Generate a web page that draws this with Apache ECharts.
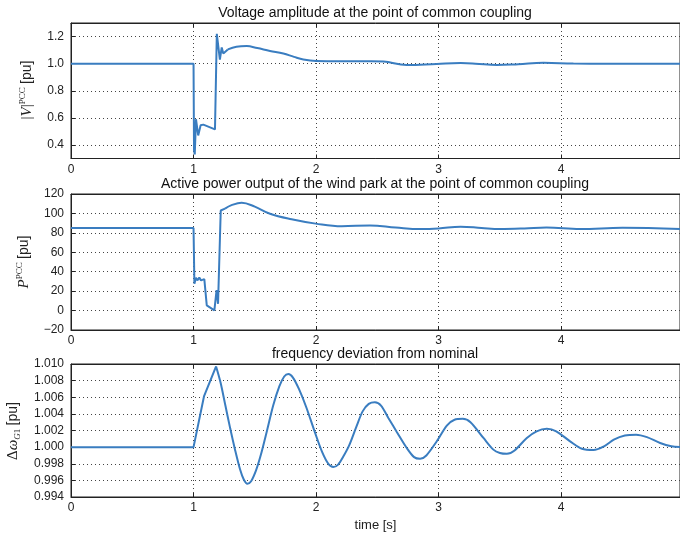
<!DOCTYPE html>
<html>
<head>
<meta charset="utf-8">
<script src="https://cdn.jsdelivr.net/npm/echarts@6/dist/echarts.min.js"></script>
<style>
  html, body { margin: 0; padding: 0; background: #fff; }
  #chart { width: 680px; height: 533px; }
</style>
</head>
<body>
<div id="chart"></div>
<script>
// time axis ticks
const timeTicks = [0, 1, 2, 3, 4];

// voltage amplitude at PCC [pu]: fault part (straight) and recovery (smooth)
const voltFaultT = [0, 1.0, 1.004, 1.010, 1.020, 1.038, 1.058, 1.080, 1.175, 1.190, 1.215, 1.230, 1.243, 1.280];
const voltFault = [1.0, 1.0, 0.36, 0.33, 0.59, 0.47, 0.545, 0.55, 0.515, 1.22, 1.03, 1.12, 1.075, 1.105];
const voltRecT = [1.280, 1.35, 1.434, 1.52, 1.624, 1.733, 1.82, 1.896, 2.0, 2.2, 2.45, 2.55, 2.74, 2.985, 3.18, 3.30, 3.475, 3.65, 3.856, 4.1, 4.37, 4.6, 4.97];
const voltRec = [1.105, 1.125, 1.13, 1.115, 1.094, 1.075, 1.05, 1.031, 1.02, 1.018, 1.018, 1.015, 0.99, 0.998, 1.004, 1.0, 0.99, 0.996, 1.006, 1.001, 1.0, 1.0, 1.0];
const voltTicks = [0.4, 0.6, 0.8, 1.0, 1.2];

// active power at PCC [pu]
const powFaultT = [0, 1.0, 1.007, 1.020, 1.031, 1.047, 1.061, 1.088, 1.108, 1.170, 1.188, 1.200, 1.222, 1.257];
const powFault = [85, 85, 27.7, 33.9, 31.1, 33.9, 31.1, 32.4, 5.4, 0.2, 21, 7, 103, 104.9];
const powRecT = [1.257, 1.31, 1.393, 1.5, 1.624, 1.8, 1.997, 2.21, 2.44, 2.65, 2.85, 3.0, 3.18, 3.35, 3.5, 3.7, 3.88, 4.155, 4.5, 4.97];
const powRec = [104.9, 108.5, 111, 107, 99.7, 94, 89.5, 86.7, 87.7, 85.5, 83.9, 84.5, 86.4, 85, 83.9, 84.5, 85.6, 83.9, 85.3, 83.9];

// frequency deviation [pu]
const freqRiseT = [0, 1.0, 1.086, 1.184];
const freqRise = [1.0, 1.0, 1.00615, 1.0097];
const freqOscT = [
  1.184, 1.22, 1.26, 1.30, 1.34, 1.38, 1.41, 1.439, 1.47, 1.51, 1.55, 1.60, 1.65, 1.70, 1.74, 1.774,
  1.81, 1.86, 1.92, 1.99, 2.05, 2.10, 2.141, 2.18, 2.22, 2.27, 2.33, 2.38, 2.43, 2.48,
  2.53, 2.59, 2.66, 2.74, 2.80, 2.849, 2.90, 2.985, 3.067, 3.13, 3.197, 3.26, 3.366, 3.447, 3.50, 3.557,
  3.62, 3.72, 3.80, 3.883, 3.96, 4.073, 4.17, 4.264, 4.35, 4.43, 4.52, 4.612, 4.70, 4.808, 4.90, 4.97,
];
const freqOsc = [
  1.0097, 1.0078, 1.0050, 1.0022, 0.9996, 0.9973, 0.9961, 0.9956, 0.9959, 0.9972, 0.9991, 1.0020, 1.0050, 1.0073, 1.0085, 1.0088,
  1.0084, 1.0070, 1.0048, 1.0018, 0.9994, 0.9980, 0.9976, 0.9979, 0.9988, 1.0002, 1.0025, 1.0043, 1.0052, 1.0054,
  1.0050, 1.0035, 1.0018, 0.9999, 0.9988, 0.9986, 0.9990, 1.0007, 1.0026, 1.0033, 1.0034, 1.0030, 1.0011, 0.9997, 0.9993, 0.9992,
  0.9996, 1.0011, 1.0019, 1.0022, 1.0019, 1.0007, 0.9998, 0.99965, 1.0001, 1.0009, 1.0014, 1.0015, 1.0012, 1.0005, 1.0001, 1.0,
];
const freqTicks = [0.994, 0.996, 0.998, 1.0, 1.002, 1.004, 1.006, 1.008, 1.010];

const lineColor = "#3a7dc0";
const font = "Liberation Sans, Arial, sans-serif";
const pairs = (t, v) => t.map((x, i) => [x, v[i]]);

const grids = [
  { left: 71, top: 23, width: 609, height: 135.5 },
  { left: 71, top: 194, width: 609, height: 136 },
  { left: 71, top: 364, width: 609, height: 136 },
];

const dotted = { color: "#444", width: 1, type: [1, 3] };

const xAxes = [];
grids.forEach((g, i) => {
  xAxes.push({
    type: "value",
    gridIndex: i,
    min: 0,
    max: 4.97,
    axisLine: { show: true, onZero: false, lineStyle: { color: "#222" } },
    axisTick: { show: true, inside: true, length: 4, customValues: timeTicks, lineStyle: { color: "#222" } },
    axisLabel: { customValues: timeTicks, margin: 5, color: "#222", fontSize: 12, fontFamily: font },
    splitLine: { show: true, lineStyle: dotted },
    name: i === 2 ? "time [s]" : "",
    nameLocation: "middle",
    nameGap: 22,
    nameTextStyle: { color: "#222", fontSize: 13, fontFamily: font },
  });
});
grids.forEach((g, i) => {
  xAxes.push({
    type: "value",
    gridIndex: i,
    position: "top",
    min: 0,
    max: 4.97,
    axisLine: { show: true, onZero: false, lineStyle: { color: "#222" } },
    axisTick: { show: true, inside: true, length: 4, customValues: timeTicks, lineStyle: { color: "#222" } },
    axisLabel: { show: false },
    splitLine: { show: false },
  });
});

const yBase = (i) => ({
  type: "value",
  gridIndex: i,
  axisLine: { show: true, lineStyle: { color: "#222" } },
  axisTick: { show: true, inside: true, length: 4, lineStyle: { color: "#222" } },
  axisLabel: { margin: 7, color: "#222", fontSize: 12, fontFamily: font },
  splitLine: { show: true, lineStyle: dotted },
});

const y1 = yBase(0);
y1.min = 0.3;
y1.max = 1.3;
y1.axisTick.customValues = voltTicks;
y1.axisLabel.customValues = voltTicks;
y1.axisLabel.formatter = (v) => v.toFixed(1);

const y2 = yBase(1);
y2.min = -20;
y2.max = 120;
y2.interval = 20;
y2.axisLabel.formatter = (v) => (v < 0 ? "\u2212" + Math.abs(v) : String(v));

const y3 = yBase(2);
y3.min = 0.994;
y3.max = 1.010;
y3.axisTick.customValues = freqTicks;
y3.axisLabel.customValues = freqTicks;
y3.axisLabel.formatter = (v) => v.toFixed(3);

const lineSeries = (t, v, i, smooth) => ({
  type: "line",
  xAxisIndex: i,
  yAxisIndex: i,
  data: pairs(t, v),
  showSymbol: false,
  smooth: smooth,
  lineStyle: { color: lineColor, width: 2 },
  itemStyle: { color: lineColor },
  clip: true,
  animation: false,
});

const titleStyle = { color: "#111", fontSize: 14, fontWeight: "normal", fontFamily: font };

const nameRich = {
  it: { fontFamily: "Liberation Serif, DejaVu Serif, serif", fontStyle: "italic", fontSize: 15, fill: "#222" },
  rm: { fontFamily: "Liberation Serif, DejaVu Serif, serif", fontSize: 15, fill: "#222" },
  sup: { fontFamily: "Liberation Serif, DejaVu Serif, serif", fontSize: 9, fill: "#222", verticalAlign: "top", lineHeight: 18 },
  subi: { fontFamily: "Liberation Serif, DejaVu Serif, serif", fontStyle: "italic", fontSize: 9, fill: "#222", verticalAlign: "bottom", lineHeight: 18 },
  sub: { fontFamily: "Liberation Serif, DejaVu Serif, serif", fontSize: 9, fill: "#222", verticalAlign: "bottom", lineHeight: 18 },
  sans: { fontFamily: font, fontSize: 14, fill: "#222" },
};

const yName = (x, y, text) => ({
  type: "text",
  x: x,
  y: y,
  rotation: Math.PI / 2,
  style: { text: text, rich: nameRich, align: "center", verticalAlign: "middle" },
});

const chart = echarts.init(document.getElementById("chart"), null, { renderer: "canvas" });
chart.setOption({
  backgroundColor: "#fff",
  animation: false,
  title: [
    { text: "Voltage amplitude at the point of common coupling", left: 375, top: 6, textAlign: "center", padding: 0, textStyle: titleStyle },
    { text: "Active power output of the wind park at the point of common coupling", left: 375, top: 177, textAlign: "center", padding: 0, textStyle: titleStyle },
    { text: "frequency deviation from nominal", left: 375, top: 347, textAlign: "center", padding: 0, textStyle: titleStyle },
  ],
  grid: grids.map((g) => Object.assign({ show: true, borderColor: "#222", borderWidth: 1 }, g)),
  xAxis: xAxes,
  yAxis: [y1, y2, y3],
  graphic: [
    yName(27, 90, "{rm||}{it|V}{rm||}{sup|PCC} {sans|[pu]}"),
    yName(24, 262, "{it|P}{sup|PCC} {sans|[pu]}"),
    yName(13, 431, "{rm|\u0394}{it|\u03c9}{subi|G}{sub|1} {sans|[pu]}"),
  ],
  series: [
    lineSeries(voltFaultT, voltFault, 0, false),
    lineSeries(voltRecT, voltRec, 0, 0.4),
    lineSeries(powFaultT, powFault, 1, false),
    lineSeries(powRecT, powRec, 1, 0.4),
    lineSeries(freqRiseT, freqRise, 2, false),
    lineSeries(freqOscT, freqOsc, 2, 0.3),
  ],
});
</script>
</body>
</html>
